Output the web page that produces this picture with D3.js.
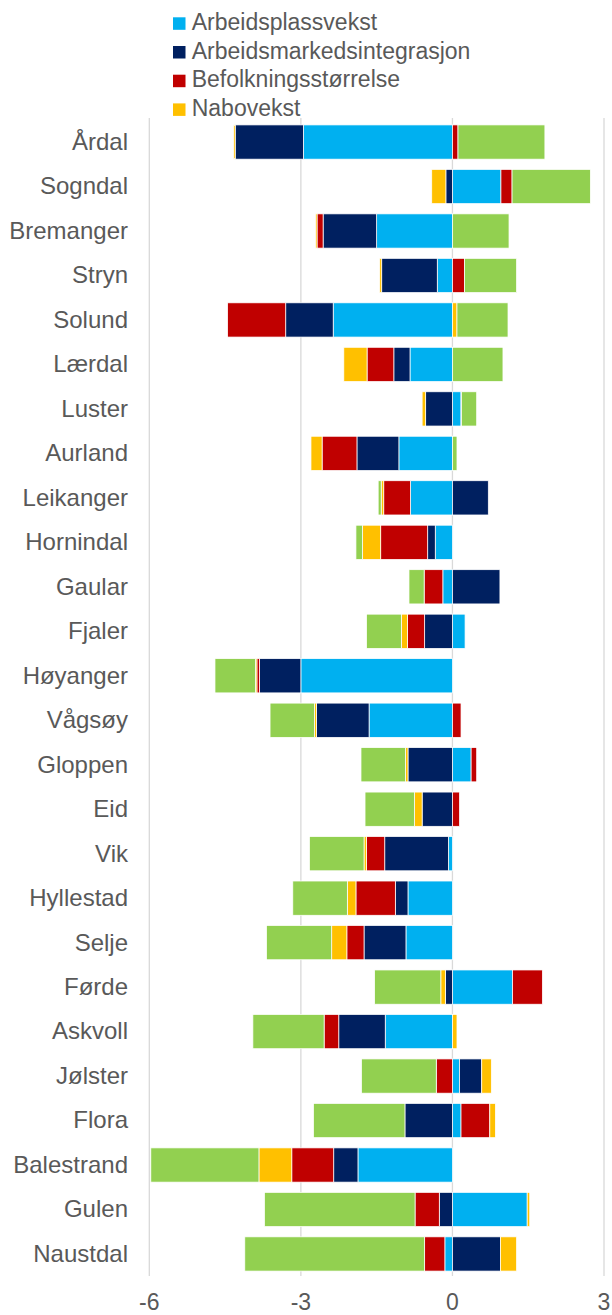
<!DOCTYPE html>
<html>
<head>
<meta charset="utf-8">
<script src="https://cdn.jsdelivr.net/npm/d3@7"></script>
<style>
  html, body { margin: 0; padding: 0; background: #fff; }
  svg { display: block; }
  text { font-family: "Liberation Sans", Arial, sans-serif; fill: #595959; }
</style>
</head>
<body>
<script>
const categories = ["Årdal","Sogndal","Bremanger","Stryn","Solund","Lærdal","Luster","Aurland","Leikanger","Hornindal","Gaular","Fjaler","Høyanger","Vågsøy","Gloppen","Eid","Vik","Hyllestad","Selje","Førde","Askvoll","Jølster","Flora","Balestrand","Gulen","Naustdal"];

const seriesNames = ["Arbeidsplassvekst","Arbeidsmarkedsintegrasjon","Befolkningsstørrelse","Nabovekst","Øvrig"];
const legendNames = ["Arbeidsplassvekst","Arbeidsmarkedsintegrasjon","Befolkningsstørrelse","Nabovekst"];
const seriesColors = ["#00B0F0","#002060","#C00000","#FFC000","#92D050"];

const arbeidsplassvekst = [-2.95,0.96,-1.50,-0.30,-2.36,-0.84,0.17,-1.06,-0.83,-0.34,-0.19,0.25,-3.00,-1.65,0.37,0.00,-0.08,-0.88,-0.92,1.19,-1.33,0.14,0.17,-1.87,1.48,-0.15];
const arbeidsmarkedsintegrasjon = [-1.35,-0.13,-1.06,-1.10,-0.94,-0.32,-0.53,-0.83,0.71,-0.15,0.94,-0.55,-0.82,-1.04,-0.88,-0.60,-1.26,-0.25,-0.83,-0.14,-0.92,0.44,-0.94,-0.48,-0.26,0.95];
const befolkningsstorrelse = [0.11,0.22,-0.12,0.24,-1.15,-0.53,0.01,-0.69,-0.53,-0.93,-0.37,-0.34,-0.05,0.17,0.11,0.14,-0.36,-0.78,-0.34,0.59,-0.29,-0.32,0.57,-0.83,-0.48,-0.40];
const nabovekst = [-0.03,-0.28,-0.03,-0.04,0.09,-0.46,-0.07,-0.22,-0.05,-0.36,0.00,-0.12,-0.03,-0.04,-0.05,-0.15,-0.05,-0.17,-0.30,-0.09,0.09,0.19,0.11,-0.65,0.05,0.32];
const ovrig = [1.72,1.55,1.12,1.03,1.01,1.00,0.30,0.09,-0.06,-0.13,-0.30,-0.69,-0.80,-0.88,-0.88,-0.98,-1.08,-1.08,-1.29,-1.31,-1.41,-1.48,-1.81,-2.14,-2.98,-3.56];

const xTicks = [-6,-3,0,3];

const seriesValues = [arbeidsplassvekst, arbeidsmarkedsintegrasjon, befolkningsstorrelse, nabovekst, ovrig];
const table = categories.map((c, i) => {
  const row = {category: c};
  seriesNames.forEach((s, j) => row[s] = seriesValues[j][i]);
  return row;
});

const W = 612, H = 1315;
const svg = d3.select("body").append("svg").attr("width", W).attr("height", H);

const x = d3.scaleLinear().domain([-6, 3]).range([149.3, 604]);
const y = d3.scaleBand().domain(categories).range([119.8, 1276.2]).paddingInner(0.23).paddingOuter(0.115);

// gridlines
svg.append("g").selectAll("line").data(xTicks).join("line")
  .attr("x1", d => x(d)).attr("x2", d => x(d))
  .attr("y1", 118).attr("y2", 1276)
  .attr("stroke", "#D9D9D9").attr("stroke-width", 1.3);

const stack = d3.stack().keys(seriesNames).offset(d3.stackOffsetDiverging);
const stacked = stack(table);

svg.append("g").selectAll("g").data(stacked).join("g")
  .attr("fill", (d, i) => seriesColors[i])
  .selectAll("rect").data(d => d).join("rect")
  .attr("x", d => x(Math.min(d[0], d[1])))
  .attr("width", d => Math.abs(x(d[1]) - x(d[0])))
  .attr("y", d => y(d.data.category))
  .attr("height", y.bandwidth())
  .attr("stroke", "#fff").attr("stroke-width", 0.75);

// category labels
svg.append("g").selectAll("text").data(categories).join("text")
  .attr("x", 128).attr("y", d => y(d) + y.bandwidth() / 2)
  .attr("dy", "0.33em")
  .attr("text-anchor", "end")
  .attr("font-size", 24)
  .text(d => d);

// x tick labels
svg.append("g").selectAll("text").data(xTicks).join("text")
  .attr("x", d => x(d)).attr("y", 1310)
  .attr("text-anchor", "middle")
  .attr("font-size", 23)
  .text(d => d < 0 ? "-" + Math.abs(d) : String(d));

// legend
const lg = svg.append("g").selectAll("g").data(legendNames).join("g")
  .attr("transform", (d, i) => `translate(173, ${17.3 + i * 28.7})`);
lg.append("rect").attr("width", 12.5).attr("height", 12.5)
  .attr("fill", (d, i) => seriesColors[i]);
lg.append("text").attr("x", 18.7).attr("y", 12.7)
  .attr("font-size", 23).text(d => d);
</script>
</body>
</html>
